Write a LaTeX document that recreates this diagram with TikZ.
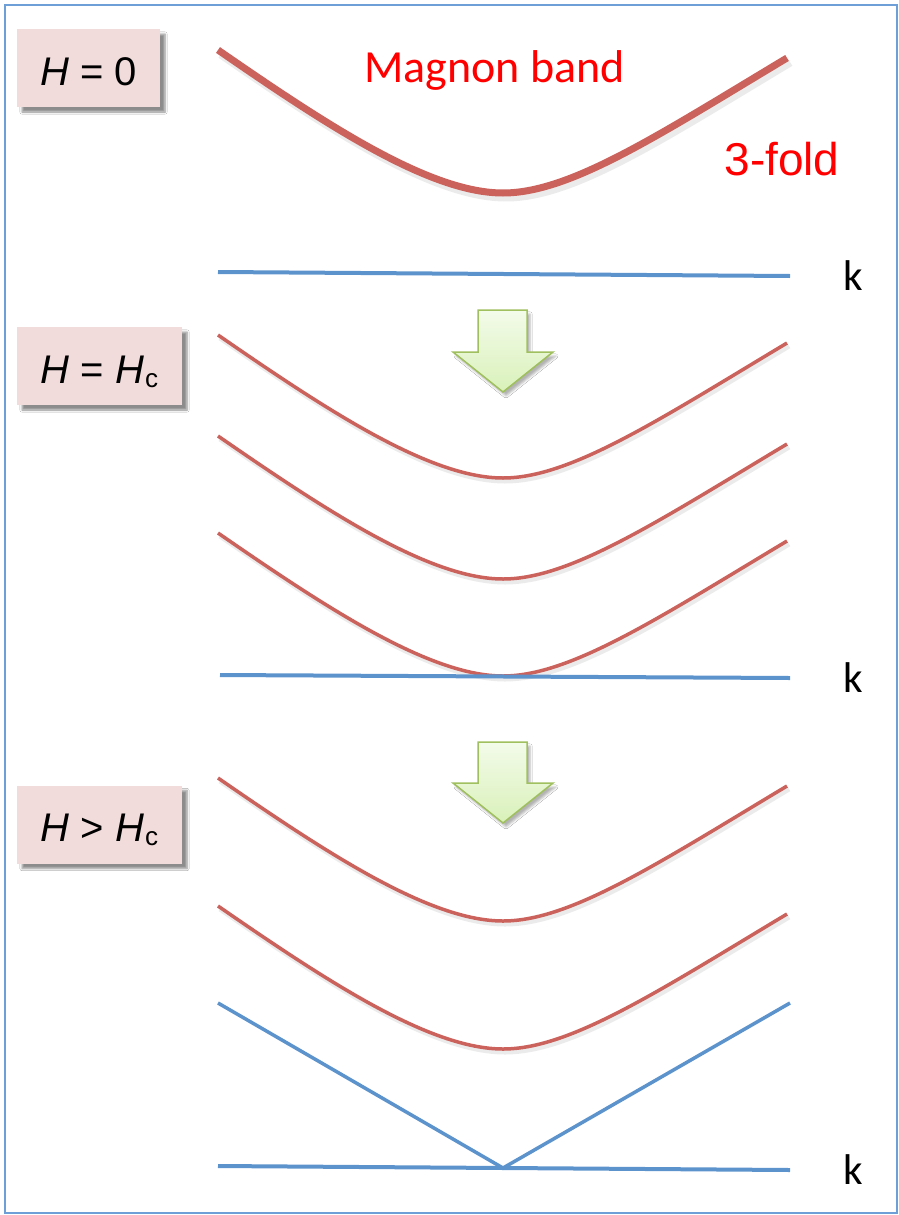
\documentclass[tikz,border=0pt]{standalone}
\usepackage{fontspec}
\setmainfont{Liberation Sans}
\newfontfamily\calibri{Carlito}
\usetikzlibrary{shadows,shadows.blur}
\definecolor{boxfill}{HTML}{F2DCDB}
\definecolor{bandred}{RGB}{204,98,92}
\definecolor{lineblue}{RGB}{93,147,204}
\definecolor{framecol}{RGB}{110,160,215}
\definecolor{arrowtop}{HTML}{F3FBEA}
\definecolor{arrowbot}{HTML}{D9F1B9}
\definecolor{arrowedge}{RGB}{160,192,96}
\newcommand\bandcurve{(218,50) .. controls (328,126) and (430,193) .. (503,193) .. controls (570,193) and (657,136) .. (787,58)}
\tikzset{
  fieldbox/.style={draw=none, fill=boxfill, rectangle, minimum height=78pt,
    text height=34pt, text depth=0pt, inner sep=0pt,
    font=\fontsize{40}{48}\selectfont,
    blur shadow={shadow xshift=5pt, shadow yshift=-5pt, shadow blur steps=6, shadow opacity=45}},
  bandthick/.style={draw=bandred, line width=7pt},
  bandthin/.style={draw=bandred, line width=3.5pt},
  bandshadow/.style={draw=black, opacity=0.08, line width=6pt},
  axisline/.style={draw=lineblue, line width=4pt},
  downarrow/.style={top color=arrowtop, bottom color=arrowbot, draw=arrowedge, line width=1.5pt, line join=miter},
  redlabel/.style={text=red, inner sep=0pt, anchor=base},
  klabel/.style={font=\calibri\fontsize{43}{50}\selectfont, inner sep=0pt, anchor=base}
}
\newcommand\subc{\kern1pt\raisebox{-4pt}{\fontsize{26}{26}\selectfont c}}
\begin{document}
\begin{tikzpicture}[x=1pt,y=-1pt]
\useasboundingbox (0,0) rectangle (899,1215);
\fill[white] (0,0) rectangle (899,1215);
\draw[framecol, line width=2pt] (5,5) rectangle (897,1213);

% labels
\node[fieldbox, minimum width=143pt] (h0) at (88.5,68) {\textit{H} = 0};
\node[fieldbox, minimum width=165pt] (hc) at (99.5,366) {\textit{H} = \textit{H}\subc};
\node[fieldbox, minimum width=165pt] (hg) at (99.5,824.5) {\textit{H} > \textit{H}\subc};

% H = 0
\draw[bandshadow, line width=9pt, shift={(3,4)}] \bandcurve;
\draw[bandthick] \bandcurve;
\node[redlabel, font=\calibri\fontsize{46}{54}\selectfont] (mb) at (494.5,82) {Magnon band};
\node[redlabel, font=\fontsize{46}{54}\selectfont] (tf) at (782,175) {3-fold};
\coordinate (a1l) at (218,272);
\coordinate (a1r) at (790,276);
\draw[axisline] (a1l) -- (a1r);
\node[klabel] (k1) at (853,290) {k};

% arrow 1
\path[downarrow, blur shadow={shadow xshift=3pt, shadow yshift=-4pt, shadow opacity=30}] (478,310) -- (527,310) -- (527,352) -- (553,352) -- (503,392) -- (453,352) -- (478,352) -- cycle;

% H = Hc
\foreach \dy in {285,386,483} {
  \draw[bandshadow, line width=5pt, shift={(2,3+\dy)}] \bandcurve;
  \draw[bandthin, shift={(0,\dy)}] \bandcurve;
}
\coordinate (a2l) at (220,675);
\coordinate (a2r) at (790,678);
\draw[axisline] (a2l) -- (a2r);
\node[klabel] (k2) at (853,692) {k};

% arrow 2
\path[downarrow, blur shadow={shadow xshift=3pt, shadow yshift=-4pt, shadow opacity=30}] (478,742) -- (527,742) -- (527,783) -- (553,783) -- (503,823) -- (453,783) -- (478,783) -- cycle;

% H > Hc
\foreach \dy in {728,856} {
  \draw[bandshadow, line width=5pt, shift={(2,3+\dy)}] \bandcurve;
  \draw[bandthin, shift={(0,\dy)}] \bandcurve;
}
\coordinate (vl) at (218,1003);
\coordinate (vm) at (503,1168);
\coordinate (vr) at (790,1003);
\draw[axisline, line width=3.5pt, line join=miter] (vl) -- (vm) -- (vr);
\coordinate (a3l) at (218,1166);
\coordinate (a3r) at (790,1170);
\draw[axisline] (a3l) -- (a3r);
\node[klabel] (k3) at (853,1184) {k};
\end{tikzpicture}
\end{document}
